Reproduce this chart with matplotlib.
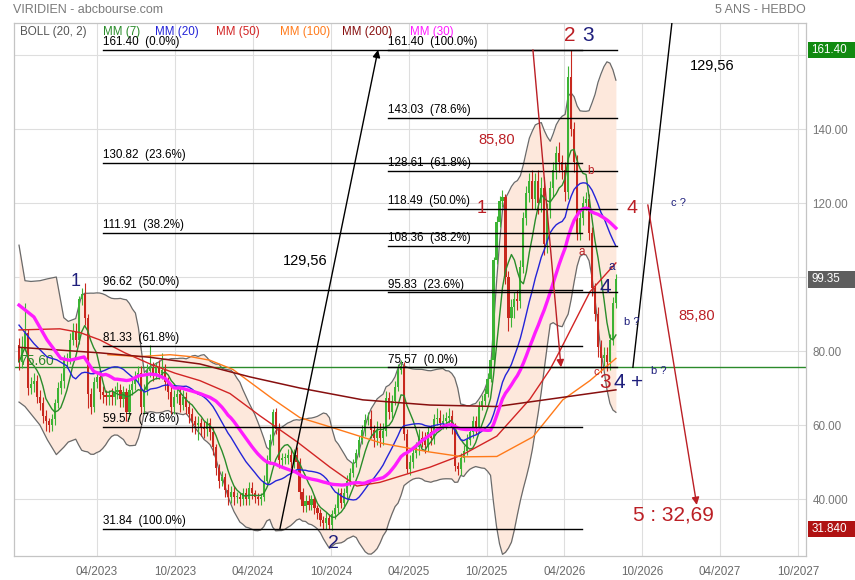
import numpy as np
import pandas as pd
import matplotlib
matplotlib.use("Agg")
import matplotlib.pyplot as plt
from matplotlib.patches import Rectangle, FancyArrowPatch

plt.rcParams['font.family'] = ['Liberation Sans', 'DejaVu Sans']

# ---------------- data (weekly) ----------------
START = pd.Timestamp('2022-09-30')
first_open = 81.6
closes = [
    77, 81, 85, 70, 71, 72, 67.5, 66, 62.5, 61,
    60, 61.5, 66, 70, 72, 77.5, 78, 83, 85.5, 83,
    94, 95.5, 89, 68.5, 65, 71.5, 73, 69, 68, 67.5,
    68, 67.5, 69, 69.5, 67, 69, 63.5, 69.5, 71, 73,
    74, 65, 69.5, 74.5, 75.5, 74, 75.5, 74, 75, 71.5,
    69, 65, 67.5, 68.5, 65.5, 67.5, 65, 63, 61, 60,
    60.5, 59.5, 59, 60.5, 58, 54, 48.5, 45, 46, 42.5,
    40.5, 42, 40.5, 40.5, 40, 41.5, 40, 43, 41.5, 40.5,
    40, 40.5, 45, 50.5, 56, 63.5, 59, 50.5, 51, 51,
    52, 50, 52, 50, 42, 38, 39.5, 38.5, 40, 37.5,
    36.2, 34.3, 33.5, 35, 33, 36, 37.6, 41.6, 39, 41.5,
    45, 47, 49.7, 52.4, 56, 58.6, 61.4, 61.5, 58.6, 56.5,
    58.5, 56.5, 58.5, 67.3, 63.5, 66.5, 70.3, 74.9, 76, 57.5,
    48, 50, 52.5, 54, 56.5, 56, 54.5, 58, 56.5, 61.5,
    62, 60.5, 61, 62, 62.5, 59.5, 49, 48, 51, 53,
    56, 58, 61, 59.5, 65, 66.5, 68.5, 72.5, 77.5, 104.5,
    115, 120.5, 121.5, 100, 89, 92, 94, 93.5, 102.7, 116,
    122.7, 126, 121, 126, 120, 124, 109, 118, 124, 129,
    133.5, 131, 129, 123, 154, 140, 131, 112, 116, 120,
    121, 112, 97, 90, 81, 78, 79, 77, 83, 93,
    99.35,
]
up_wick = [
    2, 3, 8, 1, 2, 2, 1.5, 2, 1.5, 1.5,
    1, 1.5, 1, 1.5, 2, 1.5, 1.5, 2, 2, 2,
    1, 1.5, 3, 1, 1.5, 1.5, 1.5, 2, 1.5, 1.5,
    1.5, 2, 1.5, 2, 1.5, 1.5, 1, 1.5, 2, 1.5,
    2, 2, 1.5, 2, 6, 1.5, 1.5, 2, 4.5, 1.5,
    1.5, 1.5, 2, 1.5, 1.5, 2, 1.5, 1.5, 1.5, 1.5,
    2, 1.5, 1.5, 1.5, 1.5, 1.5, 1, 1, 1.5, 1,
    1.5, 1.5, 1.5, 1.5, 1, 1.5, 1.5, 1.5, 1.5, 1,
    1, 1, 1.5, 1.5, 1.5, 0.8, 1, 1.5, 1.5, 1.5,
    1.5, 1.5, 1.5, 2, 1, 1, 1.5, 1.5, 1, 1,
    1, 1, 1, 1.5, 1, 1, 1, 1.5, 1.5, 1.5,
    1.5, 1.5, 1, 1, 1, 1.5, 1.5, 2, 2.5, 1.5,
    2.5, 2, 2, 2, 1.5, 1.5, 1.5, 1.5, 1.6, 1,
    1.5, 2, 1.5, 1.5, 2.5, 2, 2, 1.5, 2, 1.5,
    2.5, 2, 2, 1.5, 2, 1.5, 1, 1, 1.5, 1.5,
    1.5, 1.5, 1.5, 1.5, 1.5, 1.5, 1.5, 1.5, 1, 1,
    1.5, 1.5, 2, 1, 1.5, 2, 2, 2.5, 2, 1.5,
    2, 2, 3, 2, 3, 3, 3, 2, 2, 2,
    2, 3, 2, 2, 3, 7.4, 2, 2, 2, 2,
    2, 1.5, 1.5, 1.5, 2, 2, 2, 2, 1.5, 1.5,
    1.5,
]
dn_wick = [
    2, 1.5, 1, 2, 1.5, 2, 1.5, 2, 2, 2.5,
    2, 1.5, 1.5, 1.5, 1.5, 2, 2, 1.5, 1.5, 2,
    1, 1.5, 2, 4, 2, 1.5, 1.5, 2, 2, 2,
    2, 2, 2, 2, 2, 2, 2.5, 2, 1.5, 1.5,
    1.5, 2, 2, 1.5, 1.5, 2, 1.5, 1.5, 1.5, 2,
    2, 2, 2, 1.5, 2, 1.5, 2, 2.5, 3, 2.5,
    4, 2.5, 2.5, 2, 2, 2, 2, 2, 1.5, 2,
    2, 1.5, 2, 1.5, 2, 1.5, 1.5, 1.5, 1.5, 1.5,
    1.5, 1.5, 1, 1, 1, 1.5, 1.5, 2, 1.5, 1.5,
    1.5, 1.5, 1.5, 2, 2, 1.5, 1.5, 1.5, 1.5, 1.5,
    1.5, 1.5, 1.7, 1.5, 1.2, 1.5, 1.5, 1.5, 1.5, 1.5,
    1.5, 1.5, 1, 1, 1, 1, 1.5, 1.5, 2, 2.5,
    2, 2.5, 2, 1.5, 2, 1.5, 1, 1, 1, 1.5,
    1, 1.5, 1.5, 1.5, 2, 2, 2, 1.5, 2, 1.5,
    1.5, 1.5, 1.5, 2, 1.5, 2, 1.5, 1.5, 1.5, 1,
    1, 1.5, 1.5, 2, 1.5, 1, 1, 1, 1, 1,
    1, 1.5, 1.5, 2, 3.5, 2.5, 3, 2.5, 2, 1.5,
    2, 2.5, 2.5, 2.5, 3, 2.5, 3, 2.5, 2, 2.5,
    2.5, 2.5, 2.5, 2.5, 2, 2, 2.5, 2, 2, 2,
    2, 2, 2, 2, 2.5, 4, 2, 2.5, 2, 1.5,
    1.5,
]

bb_early_wk = [0, 2, 4, 7, 9.5, 12.5, 15, 16.5]
bb_early_up = [108.6, 99, 98.8, 99, 99.5, 100, 89, 88]
bb_early_lo = [66.2, 65, 63, 60, 56, 52, 54, 55.4]
mm20_early_wk = [0, 5, 9.4, 12.7, 16, 18]
mm20_early_val = [87, 82, 78.4, 77.6, 76, 73]
mm30_early_wk = [0, 5, 9.4, 14, 17, 21.8, 25, 28]
mm30_early_val = [92.4, 89.2, 83, 78, 77.5, 78.4, 74.5, 73.5]

mm50_wk = [0, 13.7, 20.4, 27.1, 35.5, 43.9, 52.3, 60.6, 70.7, 80.7, 93.1, 104.2,
           113.2, 120.9, 131, 137.7, 148.7, 160.1, 171.2, 177.9, 181.2, 191.3, 200]
mm50_val = [85.7, 86, 85, 83, 79.5, 76.5, 74, 72, 68.5, 62.5, 55.5, 48.6,
            43.5, 44.5, 47, 48.6, 52, 57, 67, 75, 80, 96, 103.8]
mm100_wk = [29.8, 40.5, 50.6, 57.3, 64, 71.7, 85.1, 94.1, 104.2, 121.9, 137.7,
            148.7, 160.1, 172.2, 182.2, 191.3, 200]
mm100_val = [79, 78.5, 79, 78.5, 77.5, 75, 67, 62, 59.5, 55, 52.7,
             51.4, 51.5, 56.8, 66.8, 72, 78]
mm200_wk = [0, 27.1, 43.9, 60.6, 77.4, 94.1, 115.2, 137.7, 160.1, 177.9, 200]
mm200_val = [81, 79.5, 78.3, 76.5, 73, 70, 66.8, 65.4, 65, 67, 69.5]

fib_a_levels = [161.40, 130.82, 111.91, 96.62, 81.33, 59.57, 31.84]
fib_a_pct = ['0.0%', '23.6%', '38.2%', '50.0%', '61.8%', '78.6%', '100.0%']
fib_b_levels = [161.40, 143.03, 128.61, 118.49, 108.36, 95.83, 75.57]
fib_b_pct = ['100.0%', '78.6%', '61.8%', '50.0%', '38.2%', '23.6%', '0.0%']
fib_a_span = (28.1, 188.6)
fib_b_span = (123.6, 200.3)

hline_level = 75.60
last_price = 99.35
high_mark = 161.40
low_mark = 31.84

tick_dates = ['2023-04-01', '2023-10-01', '2024-04-01', '2024-10-01', '2025-04-01',
              '2025-10-01', '2026-04-01', '2026-10-01', '2027-04-01', '2027-10-01']
tick_labels = ['04/2023', '10/2023', '04/2024', '10/2024', '04/2025',
               '10/2025', '04/2026', '10/2026', '04/2027', '10/2027']
y_ticks = [40, 60, 80, 100, 120, 140, 160]
y_tick_labels = ['40.000', '60.00', '80.00', '100.00', '120.00', '140.00', '']

NAVY = '#1f1f7c'
RED = '#bb1f25'

# (text, week, price, color, size)
wave_labels = [
    ('1', 19.1, 98.9, NAVY, 13),
    ('2', 105.2, 28.1, NAVY, 14),
    ('2', 184.6, 165.3, RED, 15),
    ('3', 190.6, 165.3, NAVY, 15),
    ('1', 155.1, 118.6, RED, 13),
    ('4', 205.4, 118.6, RED, 14),
    ('4', 196.3, 97.3, NAVY, 15),
    ('3', 196.3, 71.6, RED, 15),
    ('4', 201.3, 71.6, NAVY, 15),
    ('+', 207.0, 71.6, NAVY, 15),
    ('b ?', 214.4, 74.6, NAVY, 8),
    ('c ?', 221.1, 120.0, NAVY, 8),
    ('b ?', 205.4, 87.8, NAVY, 8),
    ('a', 198.7, 102.7, NAVY, 8.5),
    ('a', 188.6, 106.8, RED, 8.5),
    ('b', 191.6, 128.6, RED, 8.5),
    ('c', 193.3, 74.2, RED, 8),
    ('85,80', 160.1, 137.0, RED, 10.5),
    ('85,80', 227.1, 89.5, RED, 10.5),
    ('129,56', 95.8, 104.3, 'black', 10.5),
    ('129,56', 232.2, 157.0, 'black', 10.5),
    ('5 : 32,69', 219.4, 35.6, RED, 15),
]
# arrows: (x0, y0, x1, y1, color, head)
arrows = [
    (87.4, 31.84, 120.3, 161.4, 'black', True),
    (205.7, 75.6, 218.8, 168.9, 'black', False),
    (172.2, 161.4, 181.6, 75.6, RED, True),
    (210.7, 119.5, 227.1, 38.4, RED, True),
]

# ---------------- derived OHLC & indicators ----------------
assert len(closes) == len(up_wick) == len(dn_wick)
n = len(closes)
wk = np.arange(n)
c = np.array(closes, float)
o = np.concatenate([[first_open], c[:-1]])
hi = np.maximum(o, c) + np.array(up_wick)
lo = np.minimum(o, c) - np.array(dn_wick)
s = pd.Series(c)
mm7 = s.rolling(7, min_periods=1).mean().values
mm20 = s.rolling(20).mean().values
mm30 = s.rolling(30).mean().values
sd20 = s.rolling(20).std(ddof=0).values
bb_up = mm20 + 2 * sd20
bb_lo = mm20 - 2 * sd20

full20 = wk >= 19
full30 = wk >= 29
bb_x = np.concatenate([bb_early_wk, wk[full20]])
bb_u = np.concatenate([bb_early_up, bb_up[full20]])
bb_l = np.concatenate([bb_early_lo, bb_lo[full20]])
m20_x = np.concatenate([mm20_early_wk, wk[full20]])
m20_y = np.concatenate([mm20_early_val, mm20[full20]])
m30_x = np.concatenate([mm30_early_wk, wk[full30]])
m30_y = np.concatenate([mm30_early_val, mm30[full30]])

def to_wk(d):
    return (pd.Timestamp(d) - START).days / 7.0

# ---------------- figure ----------------
W, H = 855, 580
AX_L, AX_R, AX_T, AX_B = 14, 806, 23, 556
fig = plt.figure(figsize=(W / 100, H / 100), dpi=100)
fig.patch.set_facecolor('white')
ax = fig.add_axes([AX_L / W, 1 - AX_B / H, (AX_R - AX_L) / W, (AX_B - AX_T) / H])
ax.set_xlim(-1.68, 263.7)
ax.set_ylim(24.6, 168.65)
ax.set_axisbelow(True)
ax.grid(True, color='#dedede', lw=0.8)
for sp in ax.spines.values():
    sp.set_color('#c4c4c4')
    sp.set_linewidth(0.9)

ax.set_xticks([to_wk(d) for d in tick_dates])
ax.set_xticklabels(tick_labels)
ax.tick_params(axis='x', length=0, pad=7, labelsize=8.4, labelcolor='#6a6a6a')
ax.yaxis.tick_right()
ax.set_yticks(y_ticks)
ax.set_yticklabels(y_tick_labels)
ax.tick_params(axis='y', length=0, pad=4.5, labelsize=8.4, labelcolor='#777777')

# Bollinger
ax.fill_between(bb_x, bb_l, bb_u, color='#fde8dc', lw=0, zorder=1)
ax.plot(bb_x, bb_u, color='#6a6a6a', lw=0.9, zorder=2)
ax.plot(bb_x, bb_l, color='#6a6a6a', lw=0.9, zorder=2)

# green horizontal level
ax.axhline(hline_level, color='#2b8a2b', lw=1.0, zorder=2.4)
ax.text(0.2, hline_level + 1.6, '75.60', color='#2b8a2b', fontsize=10,
        ha='left', va='center', zorder=2.5)

# candles
GREEN_C = '#3cb334'
RED_C = '#c8281e'
for i in range(n):
    col = GREEN_C if c[i] >= o[i] else RED_C
    ax.vlines(i, lo[i], hi[i], color=col, lw=0.8, zorder=3)
    bot = min(o[i], c[i])
    h = max(abs(c[i] - o[i]), 0.35)
    ax.add_patch(Rectangle((i - 0.36, bot), 0.72, h, facecolor=col,
                           edgecolor='none', zorder=3.1))

# moving averages
ax.plot(wk, mm7, color='#2a8c2a', lw=1.0, zorder=4)
ax.plot(m20_x, m20_y, color='#2424d8', lw=1.0, zorder=4)
ax.plot(mm50_wk, mm50_val, color='#d22424', lw=1.0, zorder=4)
ax.plot(mm100_wk, mm100_val, color='#ff7a1a', lw=1.0, zorder=4)
ax.plot(mm200_wk, mm200_val, color='#870f0f', lw=1.1, zorder=4)
ax.plot(m30_x, m30_y, color='#ff1cff', lw=2.4, zorder=4.2)

# fibonacci sets
for lev, pct in zip(fib_a_levels, fib_a_pct):
    ax.plot(fib_a_span, [lev, lev], color='black', lw=1.0, zorder=5)
    ax.annotate(f'{lev:.2f}  ({pct})', xy=(fib_a_span[0], lev), xytext=(0, 3.5),
                textcoords='offset points', ha='left', va='baseline',
                fontsize=8.4, color='black', zorder=6)
for lev, pct in zip(fib_b_levels, fib_b_pct):
    ax.plot(fib_b_span, [lev, lev], color='black', lw=1.0, zorder=5)
    ax.annotate(f'{lev:.2f}  ({pct})', xy=(fib_b_span[0], lev), xytext=(0, 3.5),
                textcoords='offset points', ha='left', va='baseline',
                fontsize=8.4, color='black', zorder=6)

# arrows / projection lines
for x0, y0, x1, y1, col, head in arrows:
    if head:
        ar = FancyArrowPatch((x0, y0), (x1, y1), arrowstyle='-|>', mutation_scale=11,
                             color=col, lw=1.0, shrinkA=0, shrinkB=0, zorder=6)
        ax.add_patch(ar)
    else:
        ax.plot([x0, x1], [y0, y1], color=col, lw=1.0, zorder=6)

# wave labels and texts
for t, x, y, col, fs in wave_labels:
    ax.text(x, y, t, color=col, fontsize=fs, ha='center', va='center', zorder=7)

# right-side value boxes
ytr = ax.get_yaxis_transform()
for val, txt, col in [(high_mark, '161.40', '#118a11'), (last_price, '99.35', '#5e5e5e'),
                      (low_mark, '31.840', '#b01212')]:
    ax.add_patch(Rectangle((1.0025, val - 2.2), 0.0593, 4.4, transform=ytr,
                           facecolor=col, edgecolor='none', clip_on=False, zorder=10))
    ax.text(1.0065, val, txt, transform=ytr, color='white', fontsize=8.4,
            ha='left', va='center', zorder=11, clip_on=False)

# header texts
def ftext(px, py, s, **kw):
    fig.text(px / W, 1 - py / H, s, **kw)

ftext(13, 13, 'VIRIDIEN - abcbourse.com', fontsize=9, color='#7a7a7a', va='baseline')
ftext(806, 13, '5 ANS - HEBDO', fontsize=9, color='#7a7a7a', va='baseline', ha='right')
legend_items = [(20, 'BOLL (20, 2)', '#555555'), (103, 'MM (7)', '#2a8c2a'),
                (155, 'MM (20)', '#2424d8'), (216, 'MM (50)', '#d22424'),
                (280, 'MM (100)', '#ff7a1a'), (342, 'MM (200)', '#870f0f'),
                (410, 'MM (30)', '#ff1cff')]
for px, t, col in legend_items:
    ftext(px, 35.5, t, fontsize=8.4, color=col, va='baseline')

fig.savefig('out.png', dpi=100)
